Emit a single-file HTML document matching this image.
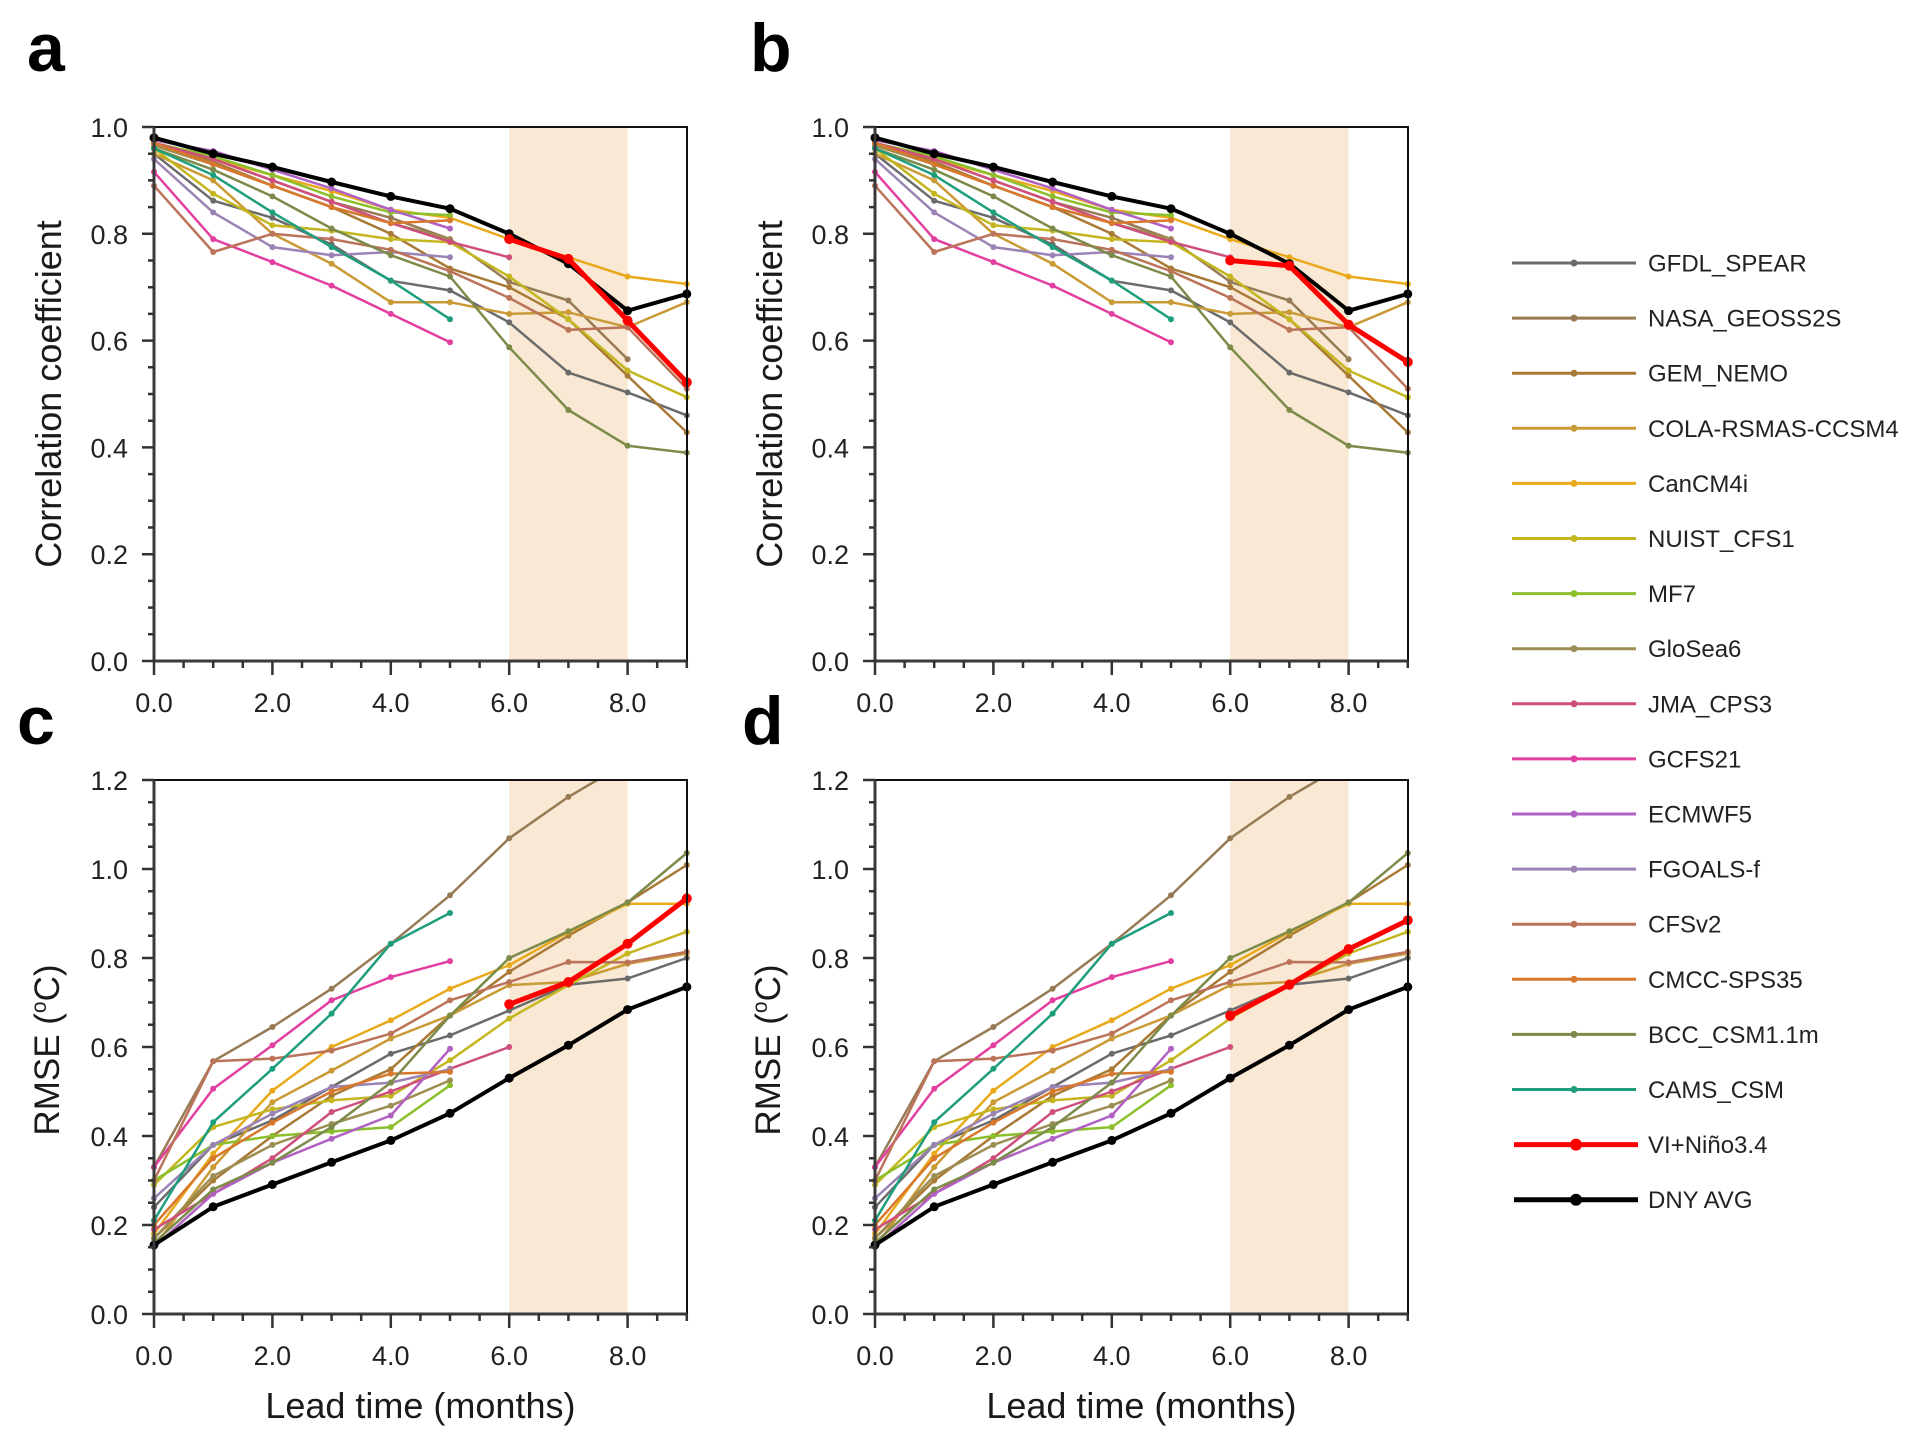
<!DOCTYPE html>
<html><head><meta charset="utf-8"><style>
html,body{margin:0;padding:0;background:#fff}
svg{display:block}
text{font-family:"Liberation Sans",Arial,sans-serif}
</style></head><body>
<svg width="1914" height="1448" viewBox="0 0 1914 1448" xmlns="http://www.w3.org/2000/svg">
<defs>
<marker id="m1" markerWidth="8" markerHeight="8" refX="4" refY="4" markerUnits="userSpaceOnUse"><circle cx="4" cy="4" r="3" fill="#6b6b6b"/></marker>
<marker id="m2" markerWidth="8" markerHeight="8" refX="4" refY="4" markerUnits="userSpaceOnUse"><circle cx="4" cy="4" r="3" fill="#977b55"/></marker>
<marker id="m3" markerWidth="8" markerHeight="8" refX="4" refY="4" markerUnits="userSpaceOnUse"><circle cx="4" cy="4" r="3" fill="#a97a36"/></marker>
<marker id="m4" markerWidth="8" markerHeight="8" refX="4" refY="4" markerUnits="userSpaceOnUse"><circle cx="4" cy="4" r="3" fill="#c99a35"/></marker>
<marker id="m5" markerWidth="8" markerHeight="8" refX="4" refY="4" markerUnits="userSpaceOnUse"><circle cx="4" cy="4" r="3" fill="#e8aa1c"/></marker>
<marker id="m6" markerWidth="8" markerHeight="8" refX="4" refY="4" markerUnits="userSpaceOnUse"><circle cx="4" cy="4" r="3" fill="#c4b61f"/></marker>
<marker id="m7" markerWidth="8" markerHeight="8" refX="4" refY="4" markerUnits="userSpaceOnUse"><circle cx="4" cy="4" r="3" fill="#8cbf2c"/></marker>
<marker id="m8" markerWidth="8" markerHeight="8" refX="4" refY="4" markerUnits="userSpaceOnUse"><circle cx="4" cy="4" r="3" fill="#9c8d52"/></marker>
<marker id="m9" markerWidth="8" markerHeight="8" refX="4" refY="4" markerUnits="userSpaceOnUse"><circle cx="4" cy="4" r="3" fill="#cf4f7c"/></marker>
<marker id="m10" markerWidth="8" markerHeight="8" refX="4" refY="4" markerUnits="userSpaceOnUse"><circle cx="4" cy="4" r="3" fill="#e23fa0"/></marker>
<marker id="m11" markerWidth="8" markerHeight="8" refX="4" refY="4" markerUnits="userSpaceOnUse"><circle cx="4" cy="4" r="3" fill="#b161c3"/></marker>
<marker id="m12" markerWidth="8" markerHeight="8" refX="4" refY="4" markerUnits="userSpaceOnUse"><circle cx="4" cy="4" r="3" fill="#9b83b5"/></marker>
<marker id="m13" markerWidth="8" markerHeight="8" refX="4" refY="4" markerUnits="userSpaceOnUse"><circle cx="4" cy="4" r="3" fill="#bb7359"/></marker>
<marker id="m14" markerWidth="8" markerHeight="8" refX="4" refY="4" markerUnits="userSpaceOnUse"><circle cx="4" cy="4" r="3" fill="#d7782c"/></marker>
<marker id="m15" markerWidth="8" markerHeight="8" refX="4" refY="4" markerUnits="userSpaceOnUse"><circle cx="4" cy="4" r="3" fill="#7c8b49"/></marker>
<marker id="m16" markerWidth="8" markerHeight="8" refX="4" refY="4" markerUnits="userSpaceOnUse"><circle cx="4" cy="4" r="3" fill="#1f9e7e"/></marker>
<marker id="m17" markerWidth="14" markerHeight="14" refX="7" refY="7" markerUnits="userSpaceOnUse"><circle cx="7" cy="7" r="5" fill="#ff0000"/></marker>
<marker id="m18" markerWidth="14" markerHeight="14" refX="7" refY="7" markerUnits="userSpaceOnUse"><circle cx="7" cy="7" r="4.5" fill="#000"/></marker>
<clipPath id="clipC"><rect x="140" y="780" width="560" height="545"/></clipPath>

<g id="axA">
  <path d="M154 127H687V661" fill="none" stroke="#111" stroke-width="2"/>
  <path d="M154 127V661H687" fill="none" stroke="#3a3a3a" stroke-width="3"/>
  <path fill="none" stroke="#333" stroke-width="2.5" d="M154 661v14M183.6 661v7M213.2 661v7M242.8 661v7M272.4 661v14M302 661v7M331.6 661v7M361.2 661v7M390.8 661v14M420.4 661v7M450 661v7M479.6 661v7M509.2 661v14M538.8 661v7M568.4 661v7M598 661v7M627.6 661v14M657.2 661v7M686.8 661v7"/>
  <path fill="none" stroke="#333" stroke-width="2.5" d="M142 661h12M148 634.3h6M148 607.6h6M148 580.9h6M142 554.2h12M148 527.5h6M148 500.8h6M148 474.1h6M142 447.4h12M148 420.7h6M148 394h6M148 367.3h6M142 340.6h12M148 313.9h6M148 287.2h6M148 260.5h6M142 233.8h12M148 207.1h6M148 180.4h6M148 153.7h6M142 127h12"/>
  <g font-size="27" fill="#222" text-anchor="middle">
    <text x="154" y="712">0.0</text><text x="272.4" y="712">2.0</text><text x="390.8" y="712">4.0</text><text x="509.2" y="712">6.0</text><text x="627.6" y="712">8.0</text>
  </g>
  <g font-size="27" fill="#222" text-anchor="end">
    <text x="128" y="671">0.0</text><text x="128" y="564.2">0.2</text><text x="128" y="457.4">0.4</text><text x="128" y="350.6">0.6</text><text x="128" y="243.8">0.8</text><text x="128" y="137">1.0</text>
  </g>
  <text transform="translate(61,394) rotate(-90)" text-anchor="middle" font-size="36" fill="#1a1a1a">Correlation coefficient</text>
</g>

<g id="axC">
  <path d="M154 780H687V1314" fill="none" stroke="#111" stroke-width="2"/>
  <path d="M154 780V1314H687" fill="none" stroke="#3a3a3a" stroke-width="3"/>
  <path fill="none" stroke="#333" stroke-width="2.5" d="M154 1314v14M183.6 1314v7M213.2 1314v7M242.8 1314v7M272.4 1314v14M302 1314v7M331.6 1314v7M361.2 1314v7M390.8 1314v14M420.4 1314v7M450 1314v7M479.6 1314v7M509.2 1314v14M538.8 1314v7M568.4 1314v7M598 1314v7M627.6 1314v14M657.2 1314v7M686.8 1314v7"/>
  <path fill="none" stroke="#333" stroke-width="2.5" d="M142 1314h12M148 1291.75h6M148 1269.5h6M148 1247.25h6M142 1225h12M148 1202.75h6M148 1180.5h6M148 1158.25h6M142 1136h12M148 1113.75h6M148 1091.5h6M148 1069.25h6M142 1047h12M148 1024.75h6M148 1002.5h6M148 980.25h6M142 958h12M148 935.75h6M148 913.5h6M148 891.25h6M142 869h12M148 846.75h6M148 824.5h6M148 802.25h6M142 780h12"/>
  <g font-size="27" fill="#222" text-anchor="middle">
    <text x="154" y="1365">0.0</text><text x="272.4" y="1365">2.0</text><text x="390.8" y="1365">4.0</text><text x="509.2" y="1365">6.0</text><text x="627.6" y="1365">8.0</text>
  </g>
  <g font-size="27" fill="#222" text-anchor="end">
    <text x="128" y="1324">0.0</text><text x="128" y="1235">0.2</text><text x="128" y="1146">0.4</text><text x="128" y="1057">0.6</text><text x="128" y="968">0.8</text><text x="128" y="879">1.0</text><text x="128" y="790">1.2</text>
  </g>
  <text transform="translate(59,1050) rotate(-90)" text-anchor="middle" font-size="35" fill="#1a1a1a">RMSE (<tspan font-size="21" dy="-13">o</tspan><tspan dy="13">C)</tspan></text>
  <text x="420.4" y="1418" text-anchor="middle" font-size="36" fill="#1a1a1a">Lead time (months)</text>
</g>

<g id="serA" fill="none" stroke-width="2.5" stroke-linejoin="round">
  <polyline stroke="#6b6b6b" marker-start="url(#m1)" marker-mid="url(#m1)" marker-end="url(#m1)" points="154,153.7 213.2,200.7 272.4,217.8 331.6,244.5 390.8,280.8 450,290.4 509.2,322.4 568.4,372.6 627.6,392.4 686.8,415.4"/>
  <polyline stroke="#977b55" marker-start="url(#m2)" marker-mid="url(#m2)" marker-end="url(#m2)" points="154,143 213.2,159 272.4,180.4 331.6,201.8 390.8,217.8 450,239.1 509.2,281.9 568.4,300.5 627.6,359.3"/>
  <polyline stroke="#a97a36" marker-start="url(#m3)" marker-mid="url(#m3)" marker-end="url(#m3)" points="154,143 213.2,161.7 272.4,185.7 331.6,207.1 390.8,233.8 450,268.5 509.2,287.2 568.4,319.2 627.6,375.8 686.8,432.4"/>
  <polyline stroke="#c99a35" marker-start="url(#m4)" marker-mid="url(#m4)" marker-end="url(#m4)" points="154,153.7 213.2,180.4 272.4,233.8 331.6,263.7 390.8,302.2 450,302.2 509.2,313.9 568.4,312.3 627.6,327.2 686.8,302.2"/>
  <polyline stroke="#e8aa1c" marker-start="url(#m5)" marker-mid="url(#m5)" marker-end="url(#m5)" points="154,143 213.2,159 272.4,175.1 331.6,191.1 390.8,209.8 450,217.8 509.2,239.1 568.4,257.3 627.6,276.5 686.8,284"/>
  <polyline stroke="#c4b61f" marker-start="url(#m6)" marker-mid="url(#m6)" marker-end="url(#m6)" points="154,148.4 213.2,193.7 272.4,225.3 331.6,230.6 390.8,239.1 450,242.3 509.2,276.5 568.4,319.2 627.6,370.5 686.8,397.2"/>
  <polyline stroke="#8cbf2c" marker-start="url(#m7)" marker-mid="url(#m7)" marker-end="url(#m7)" points="154,143 213.2,156.4 272.4,175.1 331.6,196.4 390.8,212.4 450,215.1"/>
  <polyline stroke="#9c8d52" marker-start="url(#m8)" marker-mid="url(#m8)" marker-end="url(#m8)" points="154,145.7 213.2,164.4 272.4,185.7 331.6,207.1 390.8,223.1 450,239.1"/>
  <polyline stroke="#cf4f7c" marker-start="url(#m9)" marker-mid="url(#m9)" marker-end="url(#m9)" points="154,143 213.2,159 272.4,180.4 331.6,201.8 390.8,223.1 450,241.8 509.2,257.3"/>
  <polyline stroke="#e23fa0" marker-start="url(#m10)" marker-mid="url(#m10)" marker-end="url(#m10)" points="154,171.9 213.2,239.1 272.4,262.1 331.6,285.6 390.8,313.9 450,342.2"/>
  <polyline stroke="#b161c3" marker-start="url(#m11)" marker-mid="url(#m11)" marker-end="url(#m11)" points="154,140.3 213.2,151 272.4,169.7 331.6,188.4 390.8,209.8 450,228.5"/>
  <polyline stroke="#9b83b5" marker-start="url(#m12)" marker-mid="url(#m12)" marker-end="url(#m12)" points="154,159 213.2,212.4 272.4,247.1 331.6,255.2 390.8,252 450,257.3"/>
  <polyline stroke="#bb7359" marker-start="url(#m13)" marker-mid="url(#m13)" marker-end="url(#m13)" points="154,185.7 213.2,252 272.4,233.8 331.6,239.1 390.8,249.8 450,271.2 509.2,297.9 568.4,329.9 627.6,327.2 686.8,388.7"/>
  <polyline stroke="#d7782c" marker-start="url(#m14)" marker-mid="url(#m14)" marker-end="url(#m14)" points="154,143 213.2,164.4 272.4,185.7 331.6,207.1 390.8,223.1 450,220.4"/>
  <polyline stroke="#7c8b49" marker-start="url(#m15)" marker-mid="url(#m15)" marker-end="url(#m15)" points="154,148.4 213.2,169.7 272.4,196.4 331.6,228.5 390.8,255.2 450,276.5 509.2,347.3 568.4,410 627.6,445.8 686.8,452.7"/>
  <polyline stroke="#1f9e7e" marker-start="url(#m16)" marker-mid="url(#m16)" marker-end="url(#m16)" points="154,148.4 213.2,175.1 272.4,212.4 331.6,247.1 390.8,280.5 450,319.2"/>
  <polyline stroke="#000" stroke-width="4" marker-start="url(#m18)" marker-mid="url(#m18)" marker-end="url(#m18)" points="154,137.7 213.2,153.7 272.4,167 331.6,182 390.8,196.4 450,208.7 509.2,233.8 568.4,263.7 627.6,310.7 686.8,293.9"/>
</g>

<g id="serC" fill="none" stroke-width="2.5" stroke-linejoin="round" clip-path="url(#clipC)">
  <polyline stroke="#6b6b6b" marker-start="url(#m1)" marker-mid="url(#m1)" marker-end="url(#m1)" points="154,1207.2 213.2,1144.9 272.4,1120.4 331.6,1087 390.8,1053.7 450,1035.4 509.2,1010.5 568.4,984.7 627.6,978.5 686.8,958"/>
  <polyline stroke="#977b55" marker-start="url(#m2)" marker-mid="url(#m2)" marker-end="url(#m2)" points="154,1167.1 213.2,1061.2 272.4,1027 331.6,988.7 390.8,943.8 450,895.3 509.2,838.3 568.4,796.9 627.6,762.2"/>
  <polyline stroke="#a97a36" marker-start="url(#m3)" marker-mid="url(#m3)" marker-end="url(#m3)" points="154,1238.3 213.2,1180.5 272.4,1136 331.6,1095.9 390.8,1069.2 450,1015.4 509.2,971.8 568.4,935.7 627.6,902.4 686.8,865"/>
  <polyline stroke="#c99a35" marker-start="url(#m4)" marker-mid="url(#m4)" marker-end="url(#m4)" points="154,1247.2 213.2,1167.1 272.4,1102.2 331.6,1070.6 390.8,1038.5 450,1015.4 509.2,985.1 568.4,982 627.6,963.8 686.8,953.5"/>
  <polyline stroke="#e8aa1c" marker-start="url(#m5)" marker-mid="url(#m5)" marker-end="url(#m5)" points="154,1233.9 213.2,1153.8 272.4,1090.6 331.6,1047 390.8,1020.3 450,988.7 509.2,965.1 568.4,932.2 627.6,903.7 686.8,903.7"/>
  <polyline stroke="#c4b61f" marker-start="url(#m6)" marker-mid="url(#m6)" marker-end="url(#m6)" points="154,1184.9 213.2,1127.1 272.4,1109.3 331.6,1100.4 390.8,1095.9 450,1060.3 509.2,1018.5 568.4,985.1 627.6,953.5 686.8,931.7"/>
  <polyline stroke="#8cbf2c" marker-start="url(#m7)" marker-mid="url(#m7)" marker-end="url(#m7)" points="154,1180.5 213.2,1144.9 272.4,1136 331.6,1131.5 390.8,1127.1 450,1085.3"/>
  <polyline stroke="#9c8d52" marker-start="url(#m8)" marker-mid="url(#m8)" marker-end="url(#m8)" points="154,1238.3 213.2,1176 272.4,1144.9 331.6,1124 390.8,1105.7 450,1080.4"/>
  <polyline stroke="#cf4f7c" marker-start="url(#m9)" marker-mid="url(#m9)" marker-end="url(#m9)" points="154,1229.4 213.2,1193.8 272.4,1158.2 331.6,1112 390.8,1091.5 450,1068.8 509.2,1047"/>
  <polyline stroke="#e23fa0" marker-start="url(#m10)" marker-mid="url(#m10)" marker-end="url(#m10)" points="154,1167.1 213.2,1088.8 272.4,1045.2 331.6,1000.3 390.8,977.1 450,961.1"/>
  <polyline stroke="#b161c3" marker-start="url(#m11)" marker-mid="url(#m11)" marker-end="url(#m11)" points="154,1247.2 213.2,1193.8 272.4,1162.7 331.6,1138.7 390.8,1115.5 450,1048.8"/>
  <polyline stroke="#9b83b5" marker-start="url(#m12)" marker-mid="url(#m12)" marker-end="url(#m12)" points="154,1198.3 213.2,1144.9 272.4,1113.7 331.6,1087 390.8,1082.6 450,1069.2"/>
  <polyline stroke="#bb7359" marker-start="url(#m13)" marker-mid="url(#m13)" marker-end="url(#m13)" points="154,1180.5 213.2,1061.2 272.4,1058.6 331.6,1050.6 390.8,1033.6 450,1000.3 509.2,982 568.4,962 627.6,962.4 686.8,951.8"/>
  <polyline stroke="#d7782c" marker-start="url(#m14)" marker-mid="url(#m14)" marker-end="url(#m14)" points="154,1225 213.2,1158.2 272.4,1122.6 331.6,1091.5 390.8,1073.7 450,1071.9"/>
  <polyline stroke="#7c8b49" marker-start="url(#m15)" marker-mid="url(#m15)" marker-end="url(#m15)" points="154,1242.8 213.2,1189.4 272.4,1162.7 331.6,1127.1 390.8,1082.6 450,1015.8 509.2,958 568.4,931.3 627.6,902.4 686.8,853"/>
  <polyline stroke="#1f9e7e" marker-start="url(#m16)" marker-mid="url(#m16)" marker-end="url(#m16)" points="154,1220.5 213.2,1122.2 272.4,1068.8 331.6,1013.6 390.8,943.8 450,913"/>
  <polyline stroke="#000" stroke-width="4" marker-start="url(#m18)" marker-mid="url(#m18)" marker-end="url(#m18)" points="154,1245 213.2,1206.8 272.4,1184.5 331.6,1162.3 390.8,1140.4 450,1113.3 509.2,1078.1 568.4,1045.2 627.6,1009.6 686.8,986.9"/>
</g>
</defs>

<rect width="1914" height="1448" fill="#fff"/>

<rect x="509.2" y="128" width="118.4" height="532" fill="#f9e8d3"/>
<rect x="1230.2" y="128" width="118.4" height="532" fill="#f9e8d3"/>
<rect x="509.2" y="781" width="118.4" height="532" fill="#f9e8d3"/>
<rect x="1230.2" y="781" width="118.4" height="532" fill="#f9e8d3"/>

<use href="#serA"/>
<use href="#serA" x="721"/>
<use href="#serC"/>
<use href="#serC" x="721"/>

<g fill="none" stroke="#ff0000" stroke-width="5" stroke-linejoin="round">
  <polyline marker-start="url(#m17)" marker-mid="url(#m17)" marker-end="url(#m17)" points="509.2,239.1 568.4,258.9 627.6,320.6 686.8,382.3"/>
  <polyline marker-start="url(#m17)" marker-mid="url(#m17)" marker-end="url(#m17)" points="1230.2,260.5 1289.4,265.8 1348.6,324.6 1407.8,362"/>
  <polyline marker-start="url(#m17)" marker-mid="url(#m17)" marker-end="url(#m17)" points="509.2,1004.3 568.4,982 627.6,943.8 686.8,898.4"/>
  <polyline marker-start="url(#m17)" marker-mid="url(#m17)" marker-end="url(#m17)" points="1230.2,1015.8 1289.4,984.7 1348.6,949.1 1407.8,920.2"/>
</g>

<use href="#axA"/>
<use href="#axA" x="721"/>
<use href="#axC"/>
<use href="#axC" x="721"/>

<g font-size="68" font-weight="bold" fill="#000">
  <text x="27" y="71">a</text>
  <text x="750" y="71">b</text>
  <text x="17" y="744">c</text>
  <text x="742" y="744">d</text>
</g>

<g stroke-width="3" fill="none">
  <path d="M1512 263H1636" stroke="#6b6b6b"/>
  <path d="M1512 318.1H1636" stroke="#977b55"/>
  <path d="M1512 373.2H1636" stroke="#a97a36"/>
  <path d="M1512 428.3H1636" stroke="#c99a35"/>
  <path d="M1512 483.4H1636" stroke="#e8aa1c"/>
  <path d="M1512 538.5H1636" stroke="#c4b61f"/>
  <path d="M1512 593.6H1636" stroke="#8cbf2c"/>
  <path d="M1512 648.7H1636" stroke="#9c8d52"/>
  <path d="M1512 703.8H1636" stroke="#cf4f7c"/>
  <path d="M1512 758.9H1636" stroke="#e23fa0"/>
  <path d="M1512 814H1636" stroke="#b161c3"/>
  <path d="M1512 869.1H1636" stroke="#9b83b5"/>
  <path d="M1512 924.2H1636" stroke="#bb7359"/>
  <path d="M1512 979.3H1636" stroke="#d7782c"/>
  <path d="M1512 1034.4H1636" stroke="#7c8b49"/>
  <path d="M1512 1089.5H1636" stroke="#1f9e7e"/>
  <path d="M1514 1144.6H1638" stroke="#ff0000" stroke-width="5"/>
  <path d="M1514 1199.7H1638" stroke="#000" stroke-width="5"/>
</g>
<g>
  <circle cx="1574" cy="263" r="3.5" fill="#6b6b6b"/>
  <circle cx="1574" cy="318.1" r="3.5" fill="#977b55"/>
  <circle cx="1574" cy="373.2" r="3.5" fill="#a97a36"/>
  <circle cx="1574" cy="428.3" r="3.5" fill="#c99a35"/>
  <circle cx="1574" cy="483.4" r="3.5" fill="#e8aa1c"/>
  <circle cx="1574" cy="538.5" r="3.5" fill="#c4b61f"/>
  <circle cx="1574" cy="593.6" r="3.5" fill="#8cbf2c"/>
  <circle cx="1574" cy="648.7" r="3.5" fill="#9c8d52"/>
  <circle cx="1574" cy="703.8" r="3.5" fill="#cf4f7c"/>
  <circle cx="1574" cy="758.9" r="3.5" fill="#e23fa0"/>
  <circle cx="1574" cy="814" r="3.5" fill="#b161c3"/>
  <circle cx="1574" cy="869.1" r="3.5" fill="#9b83b5"/>
  <circle cx="1574" cy="924.2" r="3.5" fill="#bb7359"/>
  <circle cx="1574" cy="979.3" r="3.5" fill="#d7782c"/>
  <circle cx="1574" cy="1034.4" r="3.5" fill="#7c8b49"/>
  <circle cx="1574" cy="1089.5" r="3.5" fill="#1f9e7e"/>
  <circle cx="1576" cy="1144.6" r="6" fill="#ff0000"/>
  <circle cx="1576" cy="1199.7" r="6" fill="#000"/>
</g>
<g font-size="24" fill="#222">
  <text x="1648" y="271.5">GFDL_SPEAR</text>
  <text x="1648" y="326.6">NASA_GEOSS2S</text>
  <text x="1648" y="381.7">GEM_NEMO</text>
  <text x="1648" y="436.8">COLA-RSMAS-CCSM4</text>
  <text x="1648" y="491.9">CanCM4i</text>
  <text x="1648" y="547">NUIST_CFS1</text>
  <text x="1648" y="602.1">MF7</text>
  <text x="1648" y="657.2">GloSea6</text>
  <text x="1648" y="712.3">JMA_CPS3</text>
  <text x="1648" y="767.4">GCFS21</text>
  <text x="1648" y="822.5">ECMWF5</text>
  <text x="1648" y="877.6">FGOALS-f</text>
  <text x="1648" y="932.7">CFSv2</text>
  <text x="1648" y="987.8">CMCC-SPS35</text>
  <text x="1648" y="1042.9">BCC_CSM1.1m</text>
  <text x="1648" y="1098">CAMS_CSM</text>
  <text x="1648" y="1153.1">VI+Niño3.4</text>
  <text x="1648" y="1208.2">DNY AVG</text>
</g>
</svg>
</body></html>
